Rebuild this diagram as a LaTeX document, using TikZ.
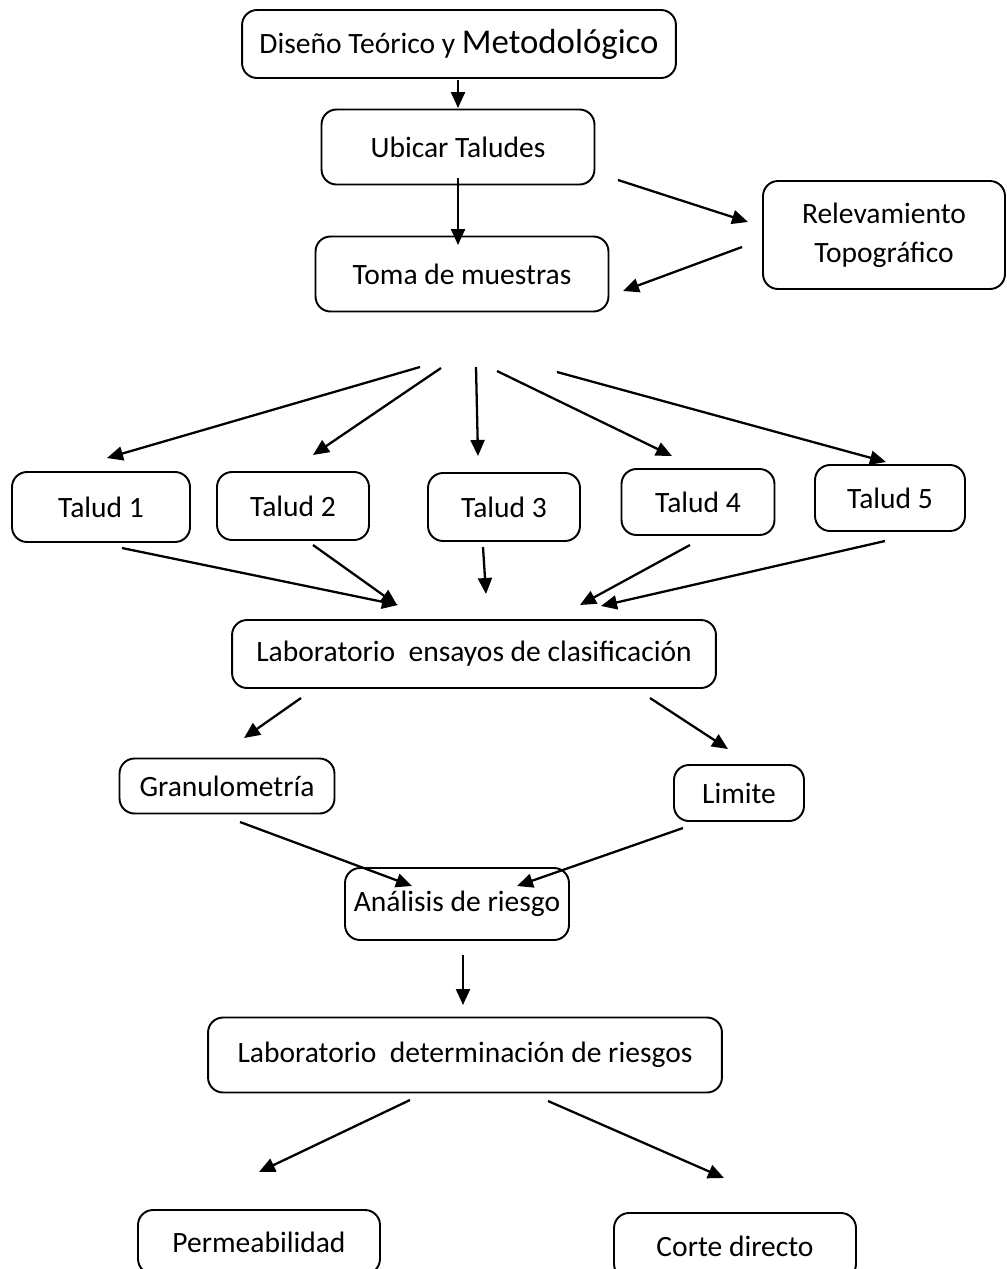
\documentclass[tikz,border=0pt]{standalone}
\usepackage{fontspec}
\setmainfont{Carlito}
\usetikzlibrary{arrows.meta,positioning}
\tikzset{
  >={Triangle[length=3.2mm,width=2.8mm]},
  caja/.style={draw,line width=1.1pt,rounded corners=3mm,
    font=\fontsize{16.8}{22}\selectfont,inner sep=2pt,align=center},
  flecha/.style={->,line width=1.3pt},
}

\begin{document}
\begin{tikzpicture}[x=0.02cm,y=-0.02cm]
  \useasboundingbox (0,0) rectangle (1007,1269);
  % cajas
  \node[caja,minimum width=8.68cm,minimum height=1.36cm] (diseno) at (459,44)
    {Diseño Teórico y {\fontsize{19.8}{22}\selectfont Metodológico}};
  \node[caja,minimum width=5.46cm,minimum height=1.5cm] (ubicar) at (458,147) {Ubicar Taludes};
  \node[caja,minimum width=4.84cm,minimum height=2.16cm] (relev) at (884,235) {Relevamiento\\Topográfico};
  \node[caja,minimum width=5.86cm,minimum height=1.5cm] (toma) at (462,274) {Toma de muestras};
  \node[caja,minimum width=3.56cm,minimum height=1.4cm] (talud1) at (101,507) {Talud 1};
  \node[caja,minimum width=3.04cm,minimum height=1.36cm] (talud2) at (293,506) {Talud 2};
  \node[caja,minimum width=3.04cm,minimum height=1.36cm] (talud3) at (504,507) {Talud 3};
  \node[caja,minimum width=3.06cm,minimum height=1.32cm] (talud4) at (698,502) {Talud 4};
  \node[caja,minimum width=3.0cm,minimum height=1.32cm] (talud5) at (890,498) {Talud 5};
  \node[caja,minimum width=9.68cm,minimum height=1.36cm] (labcla) at (474,654)
    {Laboratorio~ ensayos de clasificación};
  \node[caja,minimum width=4.3cm,minimum height=1.1cm] (granu) at (227,786) {Granulometría};
  \node[caja,minimum width=2.6cm,minimum height=1.12cm] (limite) at (739,793) {Limite};
  \node[caja,minimum width=4.48cm,minimum height=1.44cm] (analisis) at (457,904) {Análisis de riesgo};
  \node[caja,minimum width=10.28cm,minimum height=1.5cm] (labdet) at (465,1055)
    {Laboratorio~ determinación de riesgos};
  \node[caja,minimum width=4.84cm,minimum height=1.28cm] (perm) at (259,1242) {Permeabilidad};
  \node[caja,minimum width=4.84cm,minimum height=1.32cm] (corte) at (735,1246) {Corte directo};
  % extremos de las flechas
  \foreach \nm/\x/\y in {dA/458/80, uA/458/108, uB/458/178, tB/458/245,
      uC/618/180, rC/748/222, rD/742/247, tD/623/291,
      m1/420/367, e1/107/458, m2/441/368, e2/313/455, m3/476/367, e3/478/456,
      m4/497/371, e4/672/456, m5/557/372, e5/886/462,
      s1/122/548, f1/398/605, s2/313/545, f2/397/605, s3/483/547, f3/486/594,
      s4/690/545, f4/580/605, s5/885/541, f5/601/606,
      cG/301/698, gG/244/738, cL/650/698, lL/728/749,
      gA/240/822, aG/412/886, lA/683/828, aL/517/886,
      aD/463/955, dD/463/1005,
      dP/410/1100, pP/259/1172, dC/548/1101, cC/724/1178}
    \coordinate (\nm) at (\x,\y);
  % flechas
  \foreach \a/\b in {dA/uA, uB/tB, uC/rC, rD/tD,
      m1/e1, m2/e2, m3/e3, m4/e4, m5/e5,
      s1/f1, s2/f2, s3/f3, s4/f4, s5/f5,
      cG/gG, cL/lL, gA/aG, lA/aL, aD/dD, dP/pP, dC/cC}
    \draw[flecha] (\a) -- (\b);
\end{tikzpicture}
\end{document}
